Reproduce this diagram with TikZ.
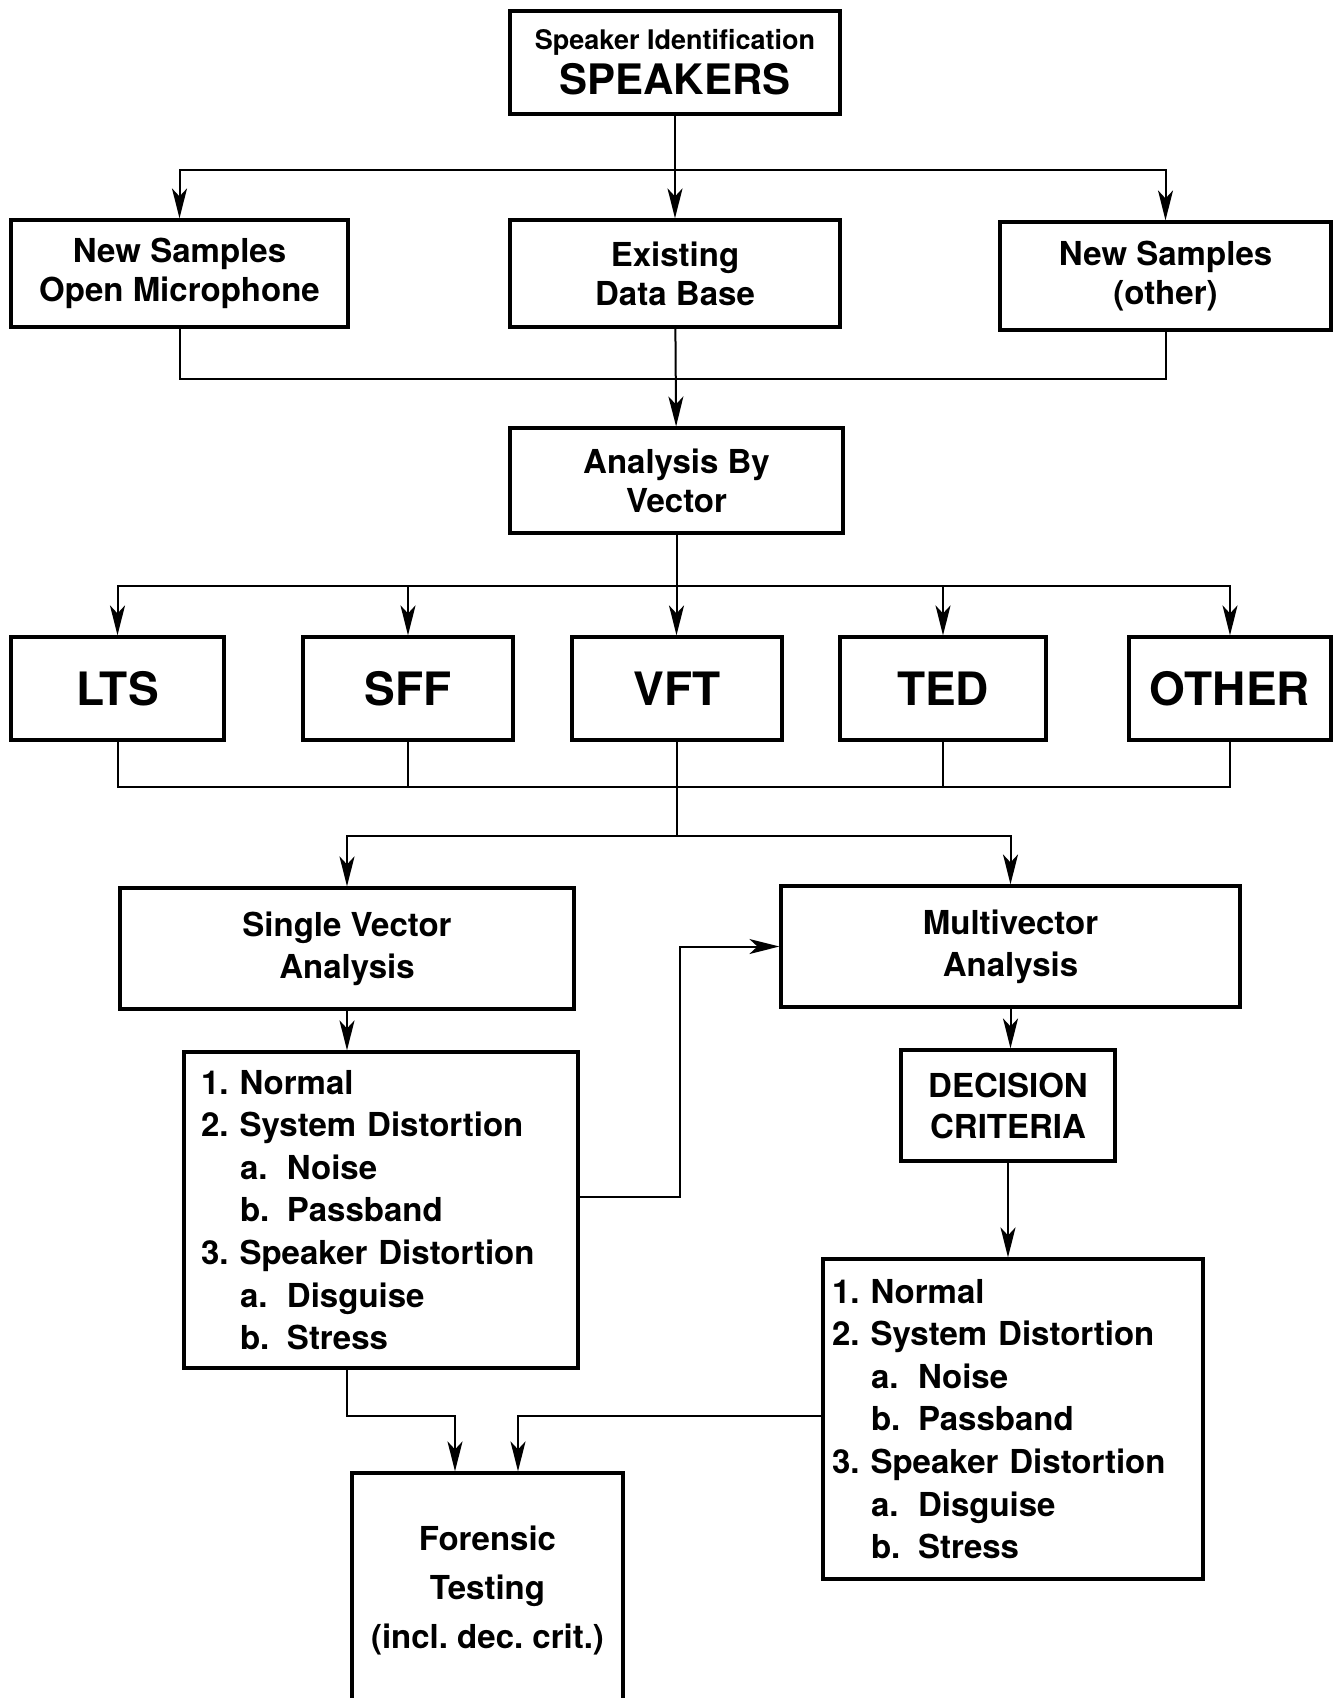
\documentclass[tikz,border=0pt]{standalone}
\usepackage{fontspec}
\setmainfont{TeX Gyre Heros}
\usetikzlibrary{arrows.meta, calc, positioning}

\tikzset{
  blk/.style={draw, line width=1.6pt, align=center, inner sep=0pt, font=\bfseries\fontsize{16.5}{19.5}\selectfont},
  big/.style={blk, font=\bfseries\fontsize{23}{26}\selectfont, minimum height=51.5pt},
  lst/.style={blk, align=left, font=\bfseries\fontsize{16.5}{21.3}\selectfont},
  ln/.style={line width=1pt},
  arr/.style={ln, -{Stealth[length=15pt, width=7.5pt, inset=4pt]}},
}
\newcommand{\subitm}[2]{\hspace*{19.5pt}\makebox[23.5pt][l]{#1}#2}
\frenchspacing

\begin{document}
\begin{tikzpicture}[x=0.5pt, y=-0.5pt]
\useasboundingbox (0,0) rectangle (1334,1698);
\fill[white] (0,0) rectangle (1334,1698);
\clip (0,0) rectangle (1334,1698);

\node[blk, minimum width=165pt, minimum height=51.5pt] (spk) at (675,62.5) {{\fontsize{13.5}{16}\selectfont Speaker Identification}\\[3pt]{\fontsize{21}{24}\selectfont SPEAKERS}};

\node[blk, minimum width=168.5pt, minimum height=53.5pt] (newopen) at (179.5,273.5) {New Samples\\Open Microphone};
\node[blk, minimum width=165pt, minimum height=53.5pt] (exist) at (675,273.5) {Existing\\Data Base};
\node[blk, minimum width=165.5pt, minimum height=54pt] (newother) at (1165.5,276) {New Samples\\(other)};

\node[blk, minimum width=166.5pt, minimum height=52.5pt] (anal) at (676.5,480.5) {Analysis By\\Vector};

\node[big, minimum width=106.5pt] (lts) at (117.5,688.5) {LTS};
\node[big, minimum width=105pt] (sff) at (408,688.5) {SFF};
\node[big, minimum width=105pt] (vft) at (677,688.5) {VFT};
\node[big, minimum width=103pt] (ted) at (943,688.5) {TED};
\node[big, minimum width=101pt] (oth) at (1230,688.5) {OTHER};

\node[blk, minimum width=227pt, minimum height=60.5pt, font=\bfseries\fontsize{16.5}{21}\selectfont] (single) at (347,948.5) {Single Vector\\Analysis};
\node[blk, minimum width=229.5pt, minimum height=60.5pt, font=\bfseries\fontsize{16.5}{21}\selectfont] (multi) at (1010.5,946.5) {Multivector\\Analysis};

\node[lst, text width=180pt, inner xsep=8.5pt, minimum height=158pt] (svlist) at (381,1210) {1. Normal\\2. System Distortion\\\subitm{a.}{Noise}\\\subitm{b.}{Passband}\\3. Speaker Distortion\\\subitm{a.}{Disguise}\\\subitm{b.}{Stress}};

\node[blk, minimum width=107pt, minimum height=55.5pt, font=\bfseries\fontsize{16.5}{20.5}\selectfont] (crit) at (1008,1105.5) {DECISION\\CRITERIA};

\node[lst, text width=181pt, inner xsep=4.5pt, minimum height=160pt] (mvlist) at (1013,1419) {1. Normal\\2. System Distortion\\\subitm{a.}{Noise}\\\subitm{b.}{Passband}\\3. Speaker Distortion\\\subitm{a.}{Disguise}\\\subitm{b.}{Stress}};

\node[blk, minimum width=135.5pt, minimum height=117pt, font=\bfseries\fontsize{16.5}{24.5}\selectfont] (forensic) at (487.5,1590) {Forensic\\Testing\\(incl. dec. crit.)};

\coordinate (split1) at (675,170);
\coordinate (join1) at (675,379);
\coordinate (split2) at (676.5,586);
\coordinate (join2) at (677,787);
\coordinate (split3) at (677,836);
\coordinate (loopb) at (680,1197);
\coordinate (jl) at (455,1416);
\coordinate (jr) at (518,1416);

\draw[arr] (spk) -- (exist);
\draw[arr] (split1) -| (newopen.north);
\draw[arr] (split1) -| (newother.north);

\draw[ln] (newopen.south) |- (join1) -| (newother.south);
\draw[arr] (exist) -- (anal);

\draw[arr] (anal.south) -- (anal.south |- vft.north);
\draw[arr] (split2) -| (lts.north);
\draw[arr] (split2) -| (sff.north);
\draw[arr] (split2) -| (ted.north);
\draw[arr] (split2) -| (oth.north);

\draw[ln] (lts.south) |- (join2) -| (oth.south);
\draw[ln] (sff.south) -- (sff.south |- join2);
\draw[ln] (ted.south) -- (ted.south |- join2);
\draw[ln] (vft.south) -- (split3);
\draw[arr] (split3) -| (single.north);
\draw[arr] (split3) -| (multi.north);

\draw[arr] (single.south) -- (single.south |- svlist.north);
\draw[arr] (svlist.east |- loopb) -- (loopb) |- (multi.west);
\draw[arr] (multi.south) -- (multi.south |- crit.north);
\draw[arr] (crit.south) -- (crit.south |- mvlist.north);

\draw[arr] (single.south |- svlist.south) |- (jl) -- (jl |- forensic.north);
\draw[arr] (mvlist.west |- jr) -- (jr) -- (jr |- forensic.north);
\end{tikzpicture}
\end{document}
